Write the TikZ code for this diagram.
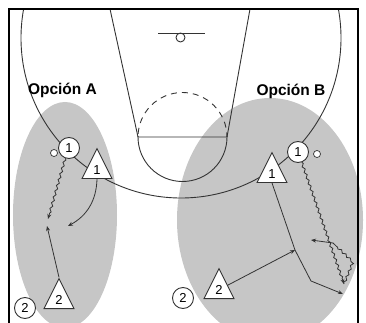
\documentclass[tikz,border=0pt]{standalone}
\usepackage{fontspec}
\setmainfont{Liberation Sans}
\usetikzlibrary{positioning,arrows.meta,shapes.geometric,decorations.pathmorphing}
\definecolor{ink}{HTML}{333333}
\definecolor{zone}{HTML}{C6C6C6}

\begin{document}
\begin{tikzpicture}[x=1pt,y=-1pt,
    court/.style={draw=ink, line width=0.9pt},
    attack/.style={circle, draw=ink, fill=white, line width=0.9pt, minimum size=21pt, inner sep=0pt, font=\fontsize{13}{13}\selectfont},
    ballmark/.style={circle, draw=ink, fill=white, line width=0.7pt, minimum size=7pt, inner sep=0pt},
    defense/.style={isosceles triangle, isosceles triangle stretches, shape border rotate=90, anchor=south,
      minimum width=30pt, minimum height=30pt, draw=ink, fill=white, line width=0.9pt, inner sep=0pt, font=\fontsize{13}{13}\selectfont},
    move/.style={draw=ink, line width=0.8pt, -{Stealth[length=5pt,width=4pt]}},
    dribble/.style={move, decorate, decoration={zigzag, amplitude=1.1pt, segment length=6pt, post length=5pt}},
    title/.style={anchor=base west, font=\fontsize{15.5}{16}\selectfont\bfseries}]
  \useasboundingbox (0,0) rectangle (366,323);
  % zonas
  \fill[zone] (65,215) ellipse [x radius=52, y radius=113];
  \fill[zone] (270,220) ellipse [x radius=93, y radius=122];
  % cancha
  \begin{scope}
    \clip (9,9) rectangle (358,330);
    \draw[court] (181,38) circle [radius=160];
  \end{scope}
  \draw[court] (110,9) -- (138,137) -- (227,137) -- (250,9);
  \begin{scope}
    \clip (130,137) rectangle (235,190);
    \draw[court] (182.5,137) circle [radius=44.5];
  \end{scope}
  \begin{scope}
    \clip (130,85) rectangle (235,137);
    \draw[court, dashed, dash pattern=on 6pt off 5pt] (182.5,137) circle [radius=44.5];
  \end{scope}
  \draw[court] (158,33) -- (205,33);
  \draw[court] (180.5,37.5) circle [radius=4.5];
  \node[title] (tA) at (24.5,95) {Opción A};
  \node[title] (tB) at (253,96) {Opción B};
  % opcion A
  \node[attack] (o1A) at (69,148) {1};
  \node[ballmark] (bA) at (54,153) {};
  \node[defense] (t1A) at (97,179) {1};
  \node[attack] (o2A) at (25,308) {2};
  \node[defense] (t2A) at (59,309) {2};
  \coordinate (dA) at (48,219);
  \coordinate (cA) at (47,226);
  \coordinate (gA) at (68,226);
  \draw[dribble] (o1A.250) -- (dA);
  \draw[move] (t2A.apex) -- (cA);
  \draw[move] (t1A.south) to[bend left=30] (gA);
  % opcion B
  \node[attack] (o1B) at (298,152) {1};
  \node[ballmark] (bB) at (317,154) {};
  \node[defense] (t1B) at (272,183) {1};
  \node[attack] (o2B) at (183,298) {2};
  \node[defense] (t2B) at (219,299) {2};
  \coordinate (pB) at (295,250);
  \coordinate (kB) at (311,281);
  \coordinate (eB) at (343,294);
  \coordinate (fB) at (344,284);
  \coordinate (rB) at (353,262);
  \coordinate (mB) at (333,243);
  \coordinate (qB) at (311,240);
  \draw[move] (t1B.south) -- (pB) -- (kB) -- (eB);
  \draw[move] (t2B) -- (pB);
  \draw[dribble] (o1B.290) -- (fB);
  \draw[dribble, -] (fB) -- (rB) -- (mB);
  \draw[move] (mB) -- (qB);
  % marco
  \draw[black, line width=2.6pt] (9,340) -- (9,9) -- (358,9) -- (358,340);
\end{tikzpicture}
\end{document}
